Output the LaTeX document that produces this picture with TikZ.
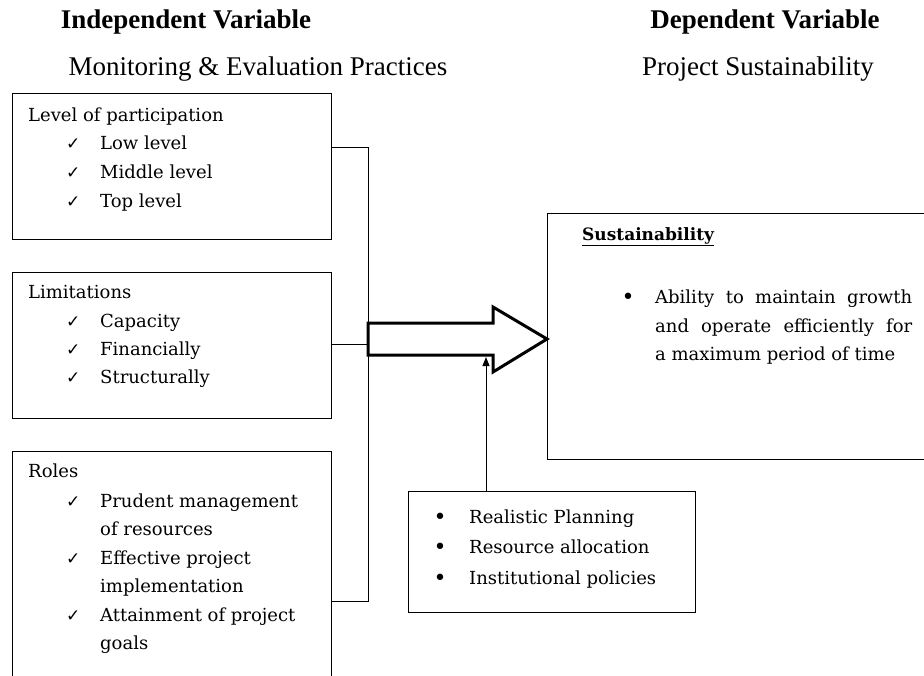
\documentclass[tikz,border=0pt]{standalone}
\usepackage{fontspec}
\setmainfont{Liberation Serif}
\newfontfamily\boxfont{DejaVu Serif}
\newfontfamily\symfont{DejaVu Sans}
\usetikzlibrary{arrows.meta}
\begin{document}
\begin{tikzpicture}[x=1pt,y=-1pt,
  frame/.style={draw=black, line width=1pt, inner sep=0pt},
  ttl/.style={font=\fontsize{27}{30}\selectfont\bfseries, anchor=base, inner sep=0pt},
  sub/.style={font=\fontsize{27}{30}\selectfont, anchor=base, inner sep=0pt},
  txt/.style={font=\boxfont\fontsize{18}{21}\selectfont, anchor=base west, inner sep=0pt},
  chk/.style={font=\symfont\fontsize{17}{20}\selectfont, anchor=base west, inner sep=0pt},
  bul/.style={font=\symfont\fontsize{22}{24}\selectfont, anchor=base, inner sep=0pt},
  conn/.style={line width=1pt},
  bigarrow/.style={line width=3pt, line join=miter, fill=white, draw=black}]
\useasboundingbox (0,0) rectangle (924,675);

% titles
\node[ttl] (tind) at (186,28) {Independent Variable};
\node[sub] (sind) at (258,75) {Monitoring \& Evaluation Practices};
\node[ttl] (tdep) at (765,28) {Dependent Variable};
\node[sub] (sdep) at (758,75) {Project Sustainability};

% left boxes
\draw[frame] (12,93) rectangle (331,239);
\coordinate (b1e) at (331,147);
\node[txt] (l1) at (28,121) {Level of participation};
\node[chk] (c11) at (66,149) {✓}; \node[txt] (l11) at (100,149) {Low level};
\node[chk] (c12) at (66,178) {✓}; \node[txt] (l12) at (100,178) {Middle level};
\node[chk] (c13) at (66,207) {✓}; \node[txt] (l13) at (100,207) {Top level};

\draw[frame] (12,272) rectangle (331,418);
\coordinate (b2e) at (331,344);
\node[txt] (l2) at (28,298) {Limitations};
\node[chk] (c21) at (66,327) {✓}; \node[txt] (l21) at (100,327) {Capacity};
\node[chk] (c22) at (66,355) {✓}; \node[txt] (l22) at (100,355) {Financially};
\node[chk] (c23) at (66,383) {✓}; \node[txt] (l23) at (100,383) {Structurally};

\draw[frame] (12,451) rectangle (331,700);
\coordinate (b3e) at (331,601);
\node[txt] (l3) at (28,477) {Roles};
\node[chk] (c31) at (66,507) {✓}; \node[txt] (l31) at (100,507) {Prudent management};
\node[txt] (l31b) at (100,535) {of resources};
\node[chk] (c32) at (66,564) {✓}; \node[txt] (l32) at (100,564) {Effective project};
\node[txt] (l32b) at (100,592) {implementation};
\node[chk] (c33) at (66,621) {✓}; \node[txt] (l33) at (100,621) {Attainment of project};
\node[txt] (l33b) at (100,649) {goals};

% connectors
\coordinate (j1) at (368,147);
\coordinate (j2) at (368,344);
\coordinate (j3) at (368,601);
\draw[conn] (b1e) -- (j1) -- (j3) -- (b3e);
\draw[conn] (b2e) -- (j2);

% sustainability box
\draw[frame] (547,213) rectangle (940,459);
\node[txt, font=\boxfont\bfseries\fontsize{17}{20}\selectfont] (sh) at (582,240) {\underline{Sustainability}};
\node[bul] (sb) at (628,304) {•};
\node[txt] (s1) at (655,303) {\makebox[257pt][s]{Ability to maintain growth}};
\node[txt] (s2) at (655,332) {\makebox[257pt][s]{and operate efficiently for}};
\node[txt] (s3) at (655,360) {a maximum period of time};

% big arrow
\draw[bigarrow] (j2 |- 0,323) -- (493,323) -- (493,307) -- (547,339) -- (493,372) -- (493,355) -- (j2 |- 0,355) -- cycle;

% small box
\draw[frame] (408,491) rectangle (695,612);
\coordinate (sbtop) at (486,491);
\coordinate (uptip) at (486,357);
\node[bul] (p1) at (440,524) {•}; \node[txt] (q1) at (469,523) {Realistic Planning};
\node[bul] (p2) at (440,554) {•}; \node[txt] (q2) at (469,553) {Resource allocation};
\node[bul] (p3) at (440,585) {•}; \node[txt] (q3) at (469,584) {Institutional policies};
\draw[conn, -{Triangle[length=9pt,width=7pt]}] (sbtop) -- (uptip);
\end{tikzpicture}
\end{document}
